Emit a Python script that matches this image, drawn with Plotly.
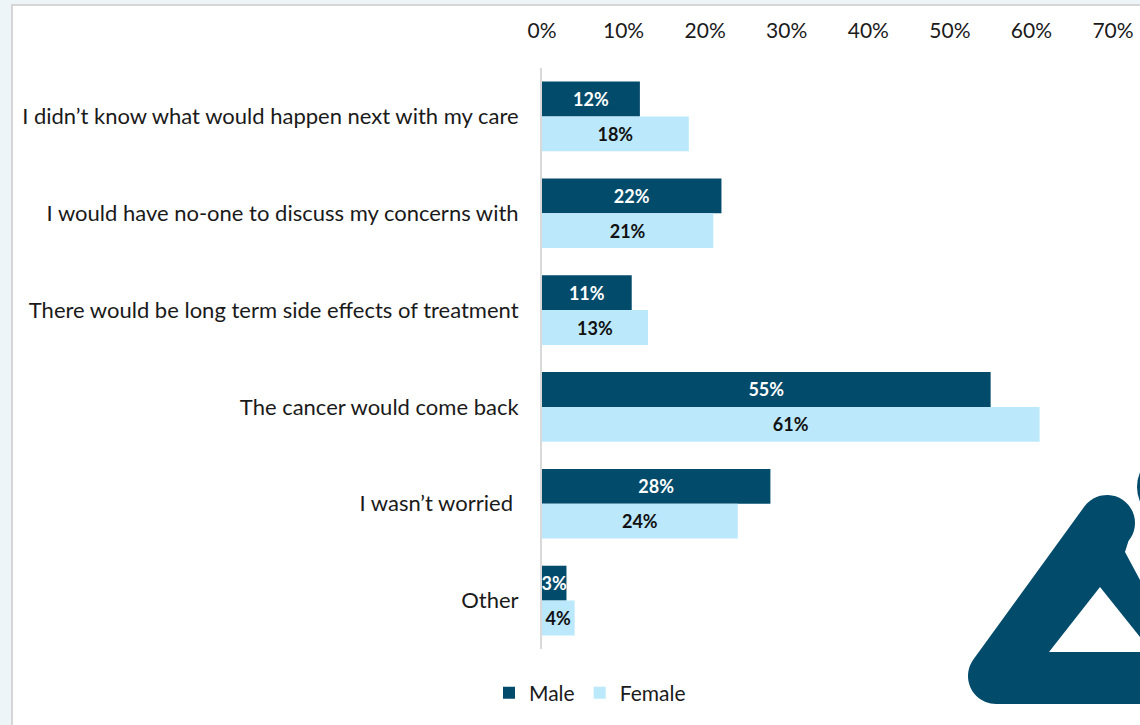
import numpy as np
import plotly.graph_objects as go

# Survey responses: worries about the future, by gender (percent)
categories = [
    "I didn’t know what would happen next with my care",
    "I would have no-one to discuss my concerns with",
    "There would be long term side effects of treatment",
    "The cancer would come back",
    "I wasn’t worried ",
    "Other",
]
male = [12, 22, 11, 55, 28, 3]
female = [18, 21, 13, 61, 24, 4]
tick_vals = [0, 10, 20, 30, 40, 50, 60, 70]
tick_text = ["0%", "10%", "20%", "30%", "40%", "50%", "60%", "70%"]

MALE_COLOR = "#034b6b"
FEMALE_COLOR = "#bce8fc"
FONT = "Lato"

W, H = 1140, 725
ML, MR, MT, MB = 542, 27, 68, 76
PW, PH = W - ML - MR, H - MT - MB


def to_paper(px, py):
    return (px - ML) / PW, (H - MB - py) / PH


def path_from(points):
    pts = [to_paper(x, y) for x, y in points]
    return "M " + " L ".join(f"{x:.5f},{y:.5f}" for x, y in pts) + " Z"


def arc(cx, cy, r, a0, a1, n=24):
    a = np.radians(np.linspace(a0, a1, n))
    return list(zip(cx + r * np.cos(a), cy + r * np.sin(a)))


fig = go.Figure()
fig.add_trace(go.Bar(
    name="Male", y=categories, x=male, orientation="h",
    marker=dict(color=MALE_COLOR, line=dict(width=0)),
    text=[f"{v}%" for v in male], textposition="inside",
    insidetextanchor="middle", textangle=0, constraintext="none",
    textfont=dict(family=FONT, size=18, color="white", weight="bold"),
    hoverinfo="skip",
))
fig.add_trace(go.Bar(
    name="Female", y=categories, x=female, orientation="h",
    marker=dict(color=FEMALE_COLOR, line=dict(width=0)),
    text=[f"{v}%" for v in female], textposition="inside",
    insidetextanchor="middle", textangle=0, constraintext="none",
    textfont=dict(family=FONT, size=18, color="#111111", weight="bold"),
    hoverinfo="skip",
))

shapes = []
# white card with a thin grey frame over a pale page background
x0, y0 = to_paper(12, 5)
x1, y1 = to_paper(W + 20, H + 20)
shapes.append(dict(type="rect", xref="paper", yref="paper", x0=x0, y0=y1, x1=x1, y1=y0,
                   fillcolor="white", line=dict(color="#d6d6d6", width=2), layer="below"))

# corner logo: rounded triangle with a head
outer = []
outer += arc(996, 676, 28, 90, 216)
outer += arc(1107, 523, 28, 216, 400)
outer += [(1125, 552), (1140, 580), (1175, 645), (1180, 704), (996, 704)]
shapes.append(dict(type="path", xref="paper", yref="paper", path=path_from(outer),
                   fillcolor=MALE_COLOR, line=dict(width=0), layer="above"))
inner = [(1100, 587), (1049, 652), (1152, 652)]
shapes.append(dict(type="path", xref="paper", yref="paper", path=path_from(inner),
                   fillcolor="white", line=dict(width=0), layer="above"))
hx0, hy0 = to_paper(1137, 449)
hx1, hy1 = to_paper(1213, 525)
shapes.append(dict(type="circle", xref="paper", yref="paper", x0=hx0, y0=hy1, x1=hx1, y1=hy0,
                   fillcolor=MALE_COLOR, line=dict(width=0), layer="above"))

fig.update_layout(
    width=W, height=H,
    margin=dict(l=ML, r=MR, t=MT, b=MB, pad=0, autoexpand=False),
    paper_bgcolor="#edf5f8",
    plot_bgcolor="rgba(0,0,0,0)",
    barmode="group",
    bargap=0.28,
    bargroupgap=0,
    font=dict(family=FONT, size=22, color="#1a1a1a"),
    showlegend=True,
    legend=dict(orientation="h", x=(590 - ML) / PW, xanchor="center",
                y=(H - MB - 693) / PH, yanchor="middle",
                font=dict(family=FONT, size=21, color="#1a1a1a"),
                bgcolor="rgba(0,0,0,0)", itemwidth=30, traceorder="normal"),
    xaxis=dict(range=[0, 70], side="top", tickvals=tick_vals, ticktext=tick_text,
               showgrid=False, zeroline=False, showline=False, automargin=False,
               ticks="outside", ticklen=21, tickcolor="rgba(0,0,0,0)",
               tickfont=dict(family=FONT, size=21, color="#1a1a1a")),
    yaxis=dict(autorange="reversed", showgrid=False, zeroline=False, automargin=False,
               showline=True, linecolor="#d9d9d9", linewidth=2,
               ticks="outside", ticklen=17, tickcolor="rgba(0,0,0,0)",
               tickfont=dict(family=FONT, size=22, color="#1a1a1a")),
    shapes=shapes,
)

fig.write_html("out.html")
